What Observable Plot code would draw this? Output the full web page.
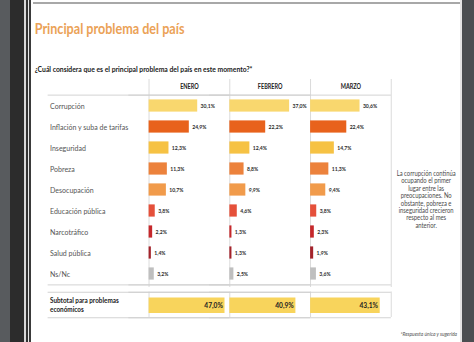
<!DOCTYPE html>
<html><head><meta charset="utf-8">
<script src="https://cdn.jsdelivr.net/npm/d3@7"></script>
<script src="https://cdn.jsdelivr.net/npm/@observablehq/plot@0.6"></script>
<style>
html,body{margin:0;padding:0;background:#fff;}
body{width:474px;height:342px;overflow:hidden;position:relative;font-family:Lato,"Open Sans",sans-serif;}
.abs{position:absolute;}
</style></head><body>
<div class="abs" style="left:0;top:0;width:10px;height:342px;background:#585b5e"></div>
<div class="abs" style="left:10px;top:0;width:14px;height:342px;background:#2c2c2c"></div>
<div class="abs" style="left:24px;top:0;width:2px;height:342px;background:#d8d8d8"></div>
<div class="abs" style="left:26px;top:0;width:2px;height:342px;background:#333"></div>
<div class="abs" style="left:28px;top:0;width:1px;height:342px;background:#e8e8e8"></div>
<div class="abs" style="left:29px;top:0;width:2px;height:342px;background:#3a3a3a"></div>
<div class="abs" style="left:460px;top:0;width:2px;height:342px;background:#e4e4e4"></div>
<div class="abs" style="left:462px;top:0;width:12px;height:342px;background:#4b4e51"></div>
<div id="slide" class="abs" style="left:33px;top:0;width:427px;height:342px;overflow:hidden;">
  <div class="abs" style="left:0;top:2px;width:427px;height:2px;background:#a8a8a8"></div>
  <div id="inner" class="abs" style="left:0;top:0;width:504px;height:342px;transform:scaleX(0.85);transform-origin:0 0;">
    <div class="abs" style="left:2px;top:20.5px;font-size:14.8px;line-height:1;font-weight:bold;color:#eba257;white-space:nowrap">Principal problema del país</div>
    <div class="abs" style="left:2px;top:64.5px;font-size:8px;line-height:1;font-weight:bold;color:#1a1a1a;white-space:nowrap">¿Cuál considera que es el principal problema del país en este momento?*</div>
    <div id="table" class="abs" style="left:0;top:70px;"></div>
    <div id="sub" class="abs" style="left:0;top:287px;"></div>
    <div class="abs" style="left:407px;top:170px;width:111px;font-size:6.9px;line-height:7.4px;color:#4a4a4a;text-align:center">La corrupción continúa<br>ocupando el primer<br>lugar entre las<br>preocupaciones. No<br>obstante, pobreza e<br>inseguridad crecieron<br>respecto al mes<br>anterior.</div>
    <div class="abs" style="left:376px;top:331px;width:123px;font-size:5.8px;line-height:1;font-style:italic;color:#555;text-align:right;white-space:nowrap">*Respuesta única y sugerida</div>
  </div>
</div>
<script>
const categories = ["Corrupción","Inflación y suba de tarifas","Inseguridad","Pobreza","Desocupación","Educación pública","Narcotráfico","Salud pública","Ns/Nc"];
const months = ["ENERO","FEBRERO","MARZO"];
const enero = [30.1,24.9,12.3,11.3,10.7,3.8,2.2,1.4,3.2];
const febrero = [37.0,22.2,12.4,8.8,9.9,4.6,1.3,1.3,2.5];
const marzo = [30.6,22.4,14.7,11.3,9.4,3.8,2.3,1.9,3.6];
const barColors = ["#f9d76e","#e8621c","#f6c244","#ec823c","#f19b4b","#e5503a","#c5282b","#a3232b","#bfbfbf"];
const subtotalLabel = "Subtotal para problemas\neconómicos";
const subtotal = [47.0,40.9,43.1];

const series = [enero, febrero, marzo];
const rows = [];
months.forEach((m, j) => categories.forEach((c, i) => rows.push({month: m, cat: c, value: series[j][i]})));
const subRows = months.map((m, j) => ({month: m, label: subtotalLabel, value: subtotal[j]}));
const vrules = months.map(m => ({month: m, x: 0})).concat([{month: months[months.length - 1], x: 50}]);
const fmt = v => v.toFixed(1).replace(".", ",") + "%";

const W = 504, ML = 135.3, MR = 81.6;
const mainH = 196, bw = mainH / categories.length;
const lineColor = "#cfcfcf", vColor = "#d8d8d8";
const font = "Lato, 'Open Sans', sans-serif";

const p1 = Plot.plot({
  width: W, height: 21 + mainH + 2,
  marginTop: 21, marginBottom: 2, marginLeft: ML, marginRight: MR,
  style: {fontFamily: font, background: "transparent"},
  fx: {domain: months, padding: 0, label: null},
  x: {domain: [0, 50], axis: null},
  y: {domain: categories, padding: 0, label: null},
  color: {domain: categories, range: barColors},
  marks: [
    Plot.ruleX(vrules, {fx: "month", x: "x", stroke: vColor, insetTop: -12}),
    Plot.ruleY([categories[0]], {dy: -bw / 2, insetLeft: -118.8, stroke: lineColor}),
    Plot.ruleY([categories[categories.length - 1]], {dy: bw / 2, insetLeft: -118.8, stroke: lineColor}),
    Plot.barX(rows, {fx: "month", y: "cat", x: "value", fill: "cat", insetTop: 4.4, insetBottom: 4.4}),
    Plot.text(rows, {fx: "month", y: "cat", x: "value", text: d => fmt(d.value), textAnchor: "start", dx: 3.5, fontSize: 6, fontWeight: "bold", fill: "#2a2a2a"}),
    Plot.axisY({tickSize: 0, tickPadding: 116.5, textAnchor: "start", fontSize: 8.3, fill: "#555", label: null}),
    Plot.axisFx({anchor: "top", tickSize: 0, tickPadding: 3, fontSize: 6.5, fontWeight: "bold", fill: "#222", label: null})
  ]
});
document.getElementById("table").append(p1);

const p2 = Plot.plot({
  width: W, height: 32,
  marginTop: 4.5, marginBottom: 2, marginLeft: ML, marginRight: MR,
  style: {fontFamily: font, background: "transparent"},
  fx: {domain: months, padding: 0, axis: null, label: null},
  x: {domain: [0, 50], axis: null},
  y: {domain: [subtotalLabel], padding: 0, label: null},
  marks: [
    Plot.ruleX(vrules, {fx: "month", x: "x", stroke: vColor}),
    Plot.ruleY([subtotalLabel], {dy: -12.75, insetLeft: -118.8, stroke: lineColor}),
    Plot.ruleY([subtotalLabel], {dy: 12.75, insetLeft: -118.8, stroke: lineColor}),
    Plot.barX(subRows, {fx: "month", y: "label", x: "value", fill: "#f8d45c", insetTop: 5.5, insetBottom: 4}),
    Plot.text(subRows, {fx: "month", y: "label", x: "value", text: d => fmt(d.value), textAnchor: "end", dx: -2.5, dy: 0.8, fontSize: 7.8, fontWeight: "bold", fill: "#222"}),
    Plot.axisY({tickSize: 0, tickPadding: 116.5, textAnchor: "start", fontSize: 7.5, fontWeight: "bold", fill: "#222", label: null, lineHeight: 1.15})
  ]
});
document.getElementById("sub").append(p2);
</script>
</body></html>
